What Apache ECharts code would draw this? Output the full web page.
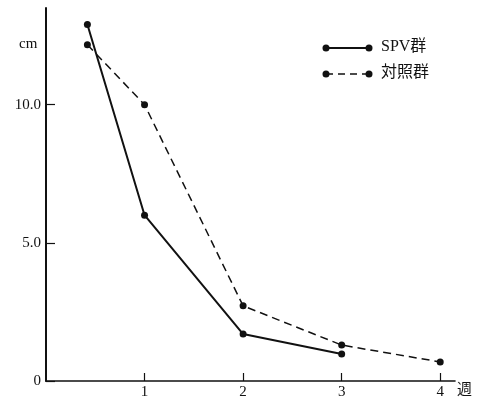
<!DOCTYPE html>
<html><head><meta charset="utf-8">
<script src="https://cdn.jsdelivr.net/npm/echarts@6/dist/echarts.min.js"></script>
<style>html,body{margin:0;padding:0;background:#fff}#c{width:478px;height:403px}</style>
</head><body><div id="c"></div>
<script>
const weeks = [0.42, 1, 2, 3, 4];
const spv = [12.9, 6.0, 1.7, 0.98];
const control = [12.17, 10.0, 2.72, 1.3, 0.69];
const seriesNames = ['SPV群', '対照群'];
const xTicks = [1, 2, 3, 4];
const yTicks = [0, 5, 10];
const yTickLabels = {0: '0', 5: '5.0', 10: '10.0'};
const FONT = '"Liberation Serif", "Noto Sans CJK JP", serif';

const chart = echarts.init(document.getElementById('c'));
chart.setOption({
  animation: false,
  backgroundColor: '#fff',
  grid: {left: 46, right: 23, top: 8, bottom: 22},
  xAxis: {
    type: 'value', min: 0, max: 4.15, interval: 1,
    axisLine: {lineStyle: {color: '#111', width: 1.6}},
    axisTick: {inside: true, length: 8, customValues: xTicks, lineStyle: {color: '#111', width: 1.2}},
    splitLine: {show: false},
    axisLabel: {color: '#111', fontFamily: FONT, fontSize: 15, margin: 4, customValues: xTicks,
      formatter: v => String(v)}
  },
  yAxis: {
    type: 'value', min: 0, max: 13.5, interval: 5,
    axisLine: {show: true, lineStyle: {color: '#111', width: 2}},
    axisTick: {show: true, inside: true, length: 9, customValues: yTicks, lineStyle: {color: '#111', width: 1.2}},
    splitLine: {show: false},
    axisLabel: {color: '#111', fontFamily: FONT, fontSize: 15, margin: 5, customValues: yTicks,
      formatter: v => yTickLabels[v] !== undefined ? yTickLabels[v] : ''}
  },
  series: [
    {name: seriesNames[0], type: 'line', data: spv.map((v, i) => [weeks[i], v]),
     symbol: 'circle', symbolSize: 7, itemStyle: {color: '#111'},
     lineStyle: {color: '#111', width: 2}},
    {name: seriesNames[1], type: 'line', data: control.map((v, i) => [weeks[i], v]),
     symbol: 'circle', symbolSize: 7, itemStyle: {color: '#111'},
     lineStyle: {color: '#111', width: 1.5, type: [8, 5]}}
  ],
  graphic: [
    {type: 'text', left: 19, top: 37, style: {text: 'cm', font: '15px ' + FONT, fill: '#111'}},
    {type: 'text', left: 457, top: 383, style: {text: '週', font: '15px ' + FONT, fill: '#111'}},
    {type: 'line', shape: {x1: 326, y1: 48, x2: 369, y2: 48}, style: {stroke: '#111', lineWidth: 2}},
    {type: 'circle', shape: {cx: 326, cy: 48, r: 3.5}, style: {fill: '#111'}},
    {type: 'circle', shape: {cx: 369, cy: 48, r: 3.5}, style: {fill: '#111'}},
    {type: 'text', left: 381, top: 39, style: {text: seriesNames[0], font: '16px ' + FONT, fill: '#111'}},
    {type: 'line', shape: {x1: 326, y1: 74, x2: 369, y2: 74}, style: {stroke: '#111', lineWidth: 1.5, lineDash: [7, 5]}},
    {type: 'circle', shape: {cx: 326, cy: 74, r: 3.5}, style: {fill: '#111'}},
    {type: 'circle', shape: {cx: 369, cy: 74, r: 3.5}, style: {fill: '#111'}},
    {type: 'text', left: 381, top: 65, style: {text: seriesNames[1], font: '16px ' + FONT, fill: '#111'}}
  ]
});
</script></body></html>
